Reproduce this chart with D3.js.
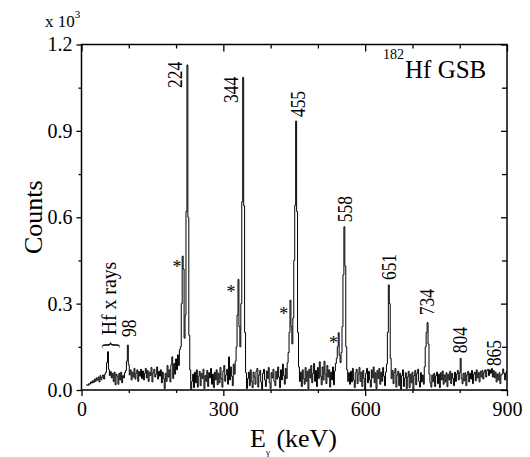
<!DOCTYPE html>
<html>
<head>
<meta charset="utf-8">
<script src="https://cdn.jsdelivr.net/npm/d3@7"></script>
<style>
  body { margin: 0; background: #fff; }
  svg { display: block; }
  svg text { font-family: "Liberation Serif", "Times New Roman", serif; fill: #000; }
</style>
</head>
<body>
<div id="chart"></div>
<script>
// 182Hf ground state band gamma spectrum

// spectrum: counts per 2 keV channel, first channel at 10 keV
var startE = 10, stepE = 2;
var counts = [
  17, 18, 16, 22, 20, 28, 24, 32, 26, 38, 30, 42, 34, 45, 28, 50, 36, 44, 52, 38,      // 10-48
  55, 62, 95, 133, 72, 50, 64, 42, 58, 30, 62, 18, 55, 48, 20, 58, 35, 62, 25, 50,     // 50-88
  42, 60, 68, 100, 156, 88, 52, 70, 35, 62, 45, 75, 38, 58, 70, 30, 64, 48, 72, 40,    // 90-128
  66, 35, 58, 75, 42, 68, 30, 62, 50, 78, 28, 60, 72, 45, 55, 80, 38, 65, 48, 70,      // 130-168
  25, 62, 40, 5, 58, 30, 85, 45, 70, 28, 88, 115, 40, 92, 55, 108, 70, 122, 85, 140,   // 170-208
  150, 300, 465, 420, 180, 260, 620, 1129, 600, 190, 70, 2, 30, 55, 8, 62, 25, 70, 10, 48, // 210-248
  65, 15, 58, 40, 72, 5, 50, 30, 68, 12, 60, 42, 75, 20, 55, 8, 62, 35, 70, 18,        // 250-288
  58, 25, 78, 40, 10, 65, 85, 30, 52, 72, 20, 115, 35, 80, 48, 15, 90, 55, 100, 150,   // 290-328
  260, 384, 220, 150, 300, 654, 1086, 640, 200, 60, 5, 40, 62, 15, 70, 30, 8, 62, 45, 20, // 330-368
  65, 75, 10, 52, 68, 28, 3, 58, 72, 35, 12, 66, 40, 78, 25, 5, 60, 42, 72, 30,        // 370-408
  15, 65, 38, 80, 45, 8, 70, 35, 90, 50, 20, 75, 40, 95, 130, 200, 312, 220, 160, 250, // 410-448
  450, 642, 934, 620, 200, 80, 30, 62, 12, 70, 40, 20, 78, 30, 65, 5, 72, 42, 85, 25,  // 450-488
  58, 92, 30, 68, 12, 78, 40, 98, 48, 18, 80, 35, 100, 55, 22, 85, 45, 70, 10, 62,     // 490-528
  35, 80, 18, 66, 92, 110, 150, 199, 120, 95, 130, 220, 400, 567, 430, 150, 70, 30, 60, 20, // 530-568
  65, 28, 75, 35, 8, 60, 72, 22, 55, 78, 30, 62, 12, 68, 40, 0, 58, 75, 25, 65,        // 570-608
  35, 10, 70, 42, 80, 25, 60, 5, 68, 40, 75, 20, 62, 30, 78, 48, 15, 62, 90, 200,      // 610-648
  365, 300, 110, 40, 68, 22, 60, 75, 10, 52, 65, 15, 58, 3, 50, 70, 12, 42, 60, 5,     // 650-688
  45, 65, 8, 55, 25, 62, 2, 50, 68, 18, 58, 72, 30, 10, 60, 28, 52, 20, 80, 150,       // 690-728
  200, 234, 160, 55, 25, 10, 52, 28, 58, 12, 50, 62, 22, 55, 8, 60, 35, 66, 20, 52,    // 730-768
  28, 60, 12, 55, 35, 65, 22, 58, 40, 15, 62, 30, 55, 68, 35, 60, 110, 40, 22, 58,     // 770-808
  32, 60, 15, 52, 65, 28, 58, 38, 68, 22, 55, 62, 32, 70, 42, 60, 28, 65, 45, 68,      // 810-848
  38, 62, 70, 45, 68, 72, 50, 70, 58, 75, 45, 68, 42, 62, 28, 55, 35, 60, 22, 52,      // 850-888
  55, 73, 58, 35, 60, 65                                                               // 890-900
];

// transition labels (rotated), anchored at energy / count level of the label foot
var peakNames = ["224", "344", "455", "558", "651", "734", "804", "865", "98"];
var peakLabelE = [212, 331, 472, 572, 665, 745, 815, 887, 115];
var peakLabelC = [1049, 997, 948, 583, 382, 260, 128, 83, 184];

// contaminant peaks marked with *
var starE = [202, 316, 428, 533];
var starC = [434, 347, 272, 171];

var xMajor = [0, 300, 600, 900];
var xMinor = [100, 200, 400, 500, 700, 800];
var yMajor = [0, 300, 600, 900, 1200];
var yMinor = [150, 450, 750, 1050];

var width = 530, height = 457;
var margin = {left: 81.5, right: 23, top: 44.5, bottom: 67};
var serif = "'Liberation Serif', 'Times New Roman', serif";

var svg = d3.select("#chart").append("svg")
  .attr("width", width).attr("height", height)
  .attr("font-family", serif);

var x = d3.scaleLinear().domain([0, 900]).range([margin.left, width - margin.right]);
var y = d3.scaleLinear().domain([0, 1200]).range([height - margin.bottom, margin.top]);

var pts = counts.map(function (c, i) { return [startE + i * stepE, c]; });

svg.append("clipPath").attr("id", "clip")
  .append("rect")
  .attr("x", x(0)).attr("y", y(1200))
  .attr("width", x(900) - x(0)).attr("height", y(0) - y(1200));

var line = d3.line()
  .x(function (d) { return x(d[0]); })
  .y(function (d) { return y(d[1]); })
  .curve(d3.curveStep);

svg.append("path")
  .datum(pts)
  .attr("clip-path", "url(#clip)")
  .attr("fill", "none")
  .attr("stroke", "#000")
  .attr("stroke-width", 1)
  .attr("d", line);

// axes
function styleAxis(g) {
  g.attr("font-family", serif).attr("font-size", 20);
  g.select(".domain").remove();
  g.selectAll("line").attr("stroke", "#000").attr("stroke-width", 1.3);
  g.selectAll("text").attr("fill", "#000");
}

var fmtY = function (v) { return (v / 1000).toFixed(1); };

svg.append("g").attr("transform", "translate(0," + y(0) + ")")
  .call(d3.axisBottom(x).tickValues(xMajor).tickSize(6).tickPadding(6).tickFormat(d3.format("d")))
  .call(styleAxis);
svg.append("g").attr("transform", "translate(0," + y(0) + ")")
  .call(d3.axisBottom(x).tickValues(xMinor).tickSize(3).tickFormat(""))
  .call(styleAxis);
svg.append("g").attr("transform", "translate(0," + y(1200) + ")")
  .call(d3.axisTop(x).tickValues(xMajor).tickSize(-7).tickFormat(""))
  .call(styleAxis);
svg.append("g").attr("transform", "translate(0," + y(1200) + ")")
  .call(d3.axisTop(x).tickValues(xMinor).tickSize(-4).tickFormat(""))
  .call(styleAxis);

svg.append("g").attr("transform", "translate(" + x(0) + ",0)")
  .call(d3.axisLeft(y).tickValues(yMajor).tickSize(5).tickPadding(4).tickFormat(fmtY))
  .call(styleAxis);
svg.append("g").attr("transform", "translate(" + x(0) + ",0)")
  .call(d3.axisLeft(y).tickValues(yMinor).tickSize(3).tickFormat(""))
  .call(styleAxis);
svg.append("g").attr("transform", "translate(" + x(900) + ",0)")
  .call(d3.axisRight(y).tickValues(yMajor).tickSize(-6).tickFormat(""))
  .call(styleAxis);
svg.append("g").attr("transform", "translate(" + x(900) + ",0)")
  .call(d3.axisRight(y).tickValues(yMinor).tickSize(-5).tickFormat(""))
  .call(styleAxis);

// frame
svg.append("rect")
  .attr("x", x(0)).attr("y", y(1200))
  .attr("width", x(900) - x(0)).attr("height", y(0) - y(1200))
  .attr("fill", "none").attr("stroke", "#000").attr("stroke-width", 1.5);

// scale factor
var sf = svg.append("text").attr("x", 45).attr("y", 27).attr("font-size", 17);
sf.append("tspan").text("x 10");
sf.append("tspan").attr("dy", -9).attr("font-size", 11).text("3");

// axis titles
svg.append("text")
  .attr("transform", "translate(42," + y(600) + ") rotate(-90)")
  .attr("text-anchor", "middle")
  .attr("font-size", 26)
  .text("Counts");

var xt = svg.append("text").attr("x", 250).attr("y", 447).attr("font-size", 26);
xt.append("tspan").text("E");
xt.append("tspan").attr("dy", 8).attr("font-size", 9).text("γ");
xt.append("tspan").attr("dy", -8).text(" (keV)");

// band title
svg.append("text").attr("x", 383).attr("y", 59).attr("font-size", 14).text("182");
svg.append("text").attr("x", 405).attr("y", 78).attr("font-size", 25).text("Hf GSB");

// rotated labels, squeezed along the text to the original's narrow look
function vlabel(px, py, txt, size, len) {
  var t = svg.append("text").attr("font-size", size).text(txt);
  var w = t.node().getComputedTextLength() || len;
  t.attr("transform", "translate(" + px + "," + py + ") rotate(-90) scale(" + (len / w) + ",1)");
  return t;
}

peakNames.forEach(function (d, i) {
  vlabel(x(peakLabelE[i]), y(peakLabelC[i]), d, 21, d.length * 8.7);
});

vlabel(x(74), y(140), "} Hf x rays", 21, 88);

// stars
svg.selectAll("text.star")
  .data(starE)
  .enter().append("text")
  .attr("class", "star")
  .attr("x", function (d) { return x(d); })
  .attr("y", function (d, i) { return y(starC[i]) + 8; })
  .attr("text-anchor", "middle")
  .attr("font-size", 18)
  .text("*");
</script>
</body>
</html>
